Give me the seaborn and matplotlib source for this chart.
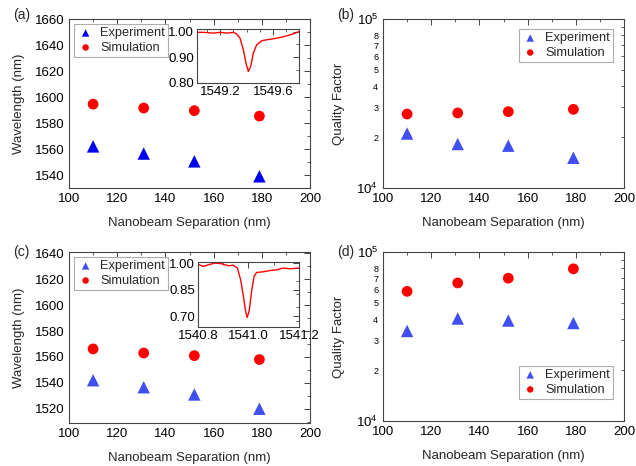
import numpy as np
import pandas as pd
import matplotlib
matplotlib.use('Agg')
import matplotlib.pyplot as plt
import seaborn as sns
from matplotlib.ticker import MultipleLocator, LogLocator, FuncFormatter

sns.set_theme(style='white')
plt.rcParams['font.family'] = ['Liberation Sans', 'DejaVu Sans']
plt.rcParams['mathtext.fontset'] = 'custom'
plt.rcParams['mathtext.rm'] = 'Liberation Sans'

# ---- data ----
separation = [110, 131, 152, 179]
wl_exp_a = [1562, 1556.5, 1550.5, 1539]
wl_sim_a = [1594.5, 1591.5, 1589.5, 1585.3]
q_exp_b = [2.10e4, 1.82e4, 1.78e4, 1.51e4]
q_sim_b = [2.74e4, 2.78e4, 2.83e4, 2.92e4]
wl_exp_c = [1542, 1536.6, 1531, 1520]
wl_sim_c = [1566.2, 1563, 1561, 1558]
q_exp_d = [3.41e4, 4.04e4, 3.93e4, 3.80e4]
q_sim_d = [5.85e4, 6.56e4, 7.00e4, 7.95e4]

inset_a_x = [1549.025, 1549.075, 1549.15, 1549.2, 1549.25, 1549.3, 1549.325, 1549.35,
             1549.375, 1549.395, 1549.4125, 1549.43, 1549.45, 1549.475, 1549.5125,
             1549.55, 1549.625, 1549.70, 1549.75, 1549.795]
inset_a_y = [0.997, 0.997, 0.994, 0.997, 0.994, 0.997, 0.990, 0.974,
             0.929, 0.877, 0.845, 0.864, 0.916, 0.948, 0.964,
             0.968, 0.974, 0.983, 0.991, 1.000]
inset_c_x = [1540.80, 1540.82, 1540.84, 1540.867, 1540.894, 1540.92, 1540.94, 1540.956,
             1540.969, 1540.98, 1540.989, 1540.995, 1541.003, 1541.013, 1541.022,
             1541.032, 1541.059, 1541.085, 1541.112, 1541.138, 1541.164, 1541.2]
inset_c_y = [0.994, 0.981, 0.990, 1.000, 0.996, 0.985, 0.988, 0.972,
             0.905, 0.810, 0.725, 0.693, 0.734, 0.848, 0.924,
             0.947, 0.951, 0.958, 0.962, 0.972, 0.968, 0.972]

exp_label = 'Experiment'
sim_label = 'Simulation'
xlabel = 'Nanobeam Separation (nm)'

RED = '#ff0000'
BLUE_A = '#0000f0'
BLUE = '#4050f0'
FS = 9.5
SPINE = '#444444'

fig = plt.figure(figsize=(6.36, 4.66), dpi=100)
W, H = 636, 466

def add_ax(l, t, r, b):
    return fig.add_axes([l / W, 1 - b / H, (r - l) / W, (b - t) / H])

ax_a = add_ax(69, 19, 310, 188)
ax_b = add_ax(383, 19, 624, 188)
ax_c = add_ax(69, 252, 310, 423)
ax_d = add_ax(383, 252, 624, 421)

def style(ax):
    for s in ax.spines.values():
        s.set_color(SPINE)
        s.set_linewidth(0.8)
    ax.tick_params(which='both', direction='in', top=True, right=True, colors=SPINE,
                   labelcolor='black', labelsize=FS)
    ax.tick_params(which='major', length=4, width=0.7)
    ax.tick_params(which='minor', length=2, width=0.6)

def scatter(ax, yexp, ysim, blue):
    df_e = pd.DataFrame({'x': separation, 'y': yexp})
    df_s = pd.DataFrame({'x': separation, 'y': ysim})
    sns.scatterplot(data=df_e, x='x', y='y', ax=ax, marker='^', s=80, color=blue,
                    edgecolor='none', linewidth=0, label=exp_label, zorder=3)
    sns.scatterplot(data=df_s, x='x', y='y', ax=ax, marker='o', s=60, color=RED,
                    edgecolor='none', linewidth=0, label=sim_label, zorder=3)

def common_x(ax):
    ax.set_xlim(100, 200)
    ax.xaxis.set_major_locator(MultipleLocator(20))
    ax.xaxis.set_minor_locator(MultipleLocator(10))
    ax.set_xlabel(xlabel, fontsize=FS, labelpad=9)

def legend(ax, **kw):
    lg = ax.legend(fontsize=FS - 0.3, frameon=True, fancybox=False, edgecolor='#999999',
                   borderpad=0.25, handletextpad=0.5, labelspacing=0.2,
                   handlelength=1.3, borderaxespad=0.4, markerscale=0.6, **kw)
    lg.get_frame().set_linewidth(0.8)

def minor_fmt(v, pos):
    if v <= 0:
        return ''
    m = v / 10 ** np.floor(np.log10(v) + 1e-9)
    r = int(round(m))
    if 2 <= r <= 8 and abs(m - r) < 1e-3:
        return str(r)
    return ''

def log_axis(ax):
    ax.set_yscale('log')
    ax.set_ylim(1e4, 1e5)
    ax.yaxis.set_major_locator(LogLocator(base=10, numticks=5))
    ax.yaxis.set_minor_locator(LogLocator(base=10, subs=np.arange(2, 10), numticks=20))
    ax.yaxis.set_minor_formatter(FuncFormatter(minor_fmt))
    ax.tick_params(axis='y', which='minor', labelsize=6.5)
    ax.set_ylabel('Quality Factor', fontsize=FS, labelpad=8)

def wl_axis(ax, lo, hi):
    ax.set_ylim(lo, hi)
    ax.yaxis.set_major_locator(MultipleLocator(20))
    ax.yaxis.set_minor_locator(MultipleLocator(10))
    ax.set_ylabel('Wavelength (nm)', fontsize=FS, labelpad=7)

# (a)
scatter(ax_a, wl_exp_a, wl_sim_a, BLUE_A)
style(ax_a)
common_x(ax_a)
wl_axis(ax_a, 1530, 1660)
legend(ax_a, loc='upper left')

# (b)
scatter(ax_b, q_exp_b, q_sim_b, BLUE)
style(ax_b)
common_x(ax_b)
log_axis(ax_b)
legend(ax_b, loc='upper right', bbox_to_anchor=(0.975, 0.97))

# (c)
scatter(ax_c, wl_exp_c, wl_sim_c, BLUE)
style(ax_c)
common_x(ax_c)
wl_axis(ax_c, 1509, 1641)
legend(ax_c, loc='upper left')

# (d)
scatter(ax_d, q_exp_d, q_sim_d, BLUE)
style(ax_d)
common_x(ax_d)
log_axis(ax_d)
legend(ax_d, loc='lower right', bbox_to_anchor=(0.975, 0.1))

# insets
in_a = add_ax(197, 29, 299, 83)
sns.lineplot(x=inset_a_x, y=inset_a_y, ax=in_a, color=RED, lw=1.0)
in_a.set_xlim(1549.025, 1549.795)
in_a.set_ylim(0.80, 1.01)
in_a.set_xticks([1549.2, 1549.6])
in_a.set_yticks([0.80, 0.90, 1.00])
in_a.yaxis.set_major_formatter(FuncFormatter(lambda v, p: f'{v:.2f}'))
in_a.xaxis.set_major_formatter(FuncFormatter(lambda v, p: f'{v:.1f}'))
in_a.xaxis.set_minor_locator(MultipleLocator(0.1))
in_a.yaxis.set_minor_locator(MultipleLocator(0.05))
style(in_a)
in_a.tick_params(pad=2)

in_c = add_ax(198, 262, 299, 327)
sns.lineplot(x=inset_c_x, y=inset_c_y, ax=in_c, color=RED, lw=1.0)
in_c.set_xlim(1540.8, 1541.2)
in_c.set_ylim(0.64, 1.006)
in_c.set_xticks([1540.8, 1541.0, 1541.2])
in_c.set_yticks([0.70, 0.85, 1.00])
in_c.yaxis.set_major_formatter(FuncFormatter(lambda v, p: f'{v:.2f}'))
in_c.xaxis.set_major_formatter(FuncFormatter(lambda v, p: f'{v:.1f}'))
in_c.xaxis.set_minor_locator(MultipleLocator(0.1))
in_c.yaxis.set_minor_locator(MultipleLocator(0.075))
style(in_c)
in_c.tick_params(pad=2)

# panel labels
for lab, x, y in [('(a)', 13, 15), ('(b)', 337, 15), ('(c)', 13, 252), ('(d)', 337, 252)]:
    fig.text(x / W, 1 - y / H, lab, fontsize=FS + 0.5, ha='left', va='center')

fig.savefig('out.png', dpi=100)
